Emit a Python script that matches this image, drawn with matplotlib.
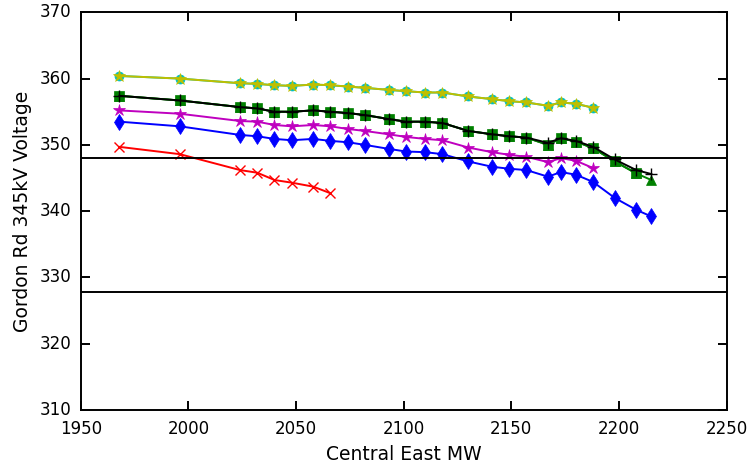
import matplotlib
matplotlib.use("Agg")
import matplotlib.pyplot as plt

plt.style.use('classic')

mw = [1968, 1996, 2024, 2032, 2040, 2048, 2058, 2066, 2074, 2082, 2093, 2101,
      2110, 2118, 2130, 2141, 2149, 2157, 2167, 2173, 2180, 2188, 2198, 2208, 2215]

blue_v = [353.5, 352.8, 351.5, 351.3, 350.9, 350.7, 350.9, 350.6, 350.4, 350.0, 349.4, 349.0,
          348.9, 348.6, 347.5, 346.7, 346.4, 346.2, 345.2, 345.9, 345.5, 344.4, 342.0, 340.2, 339.2]
green_v = [357.4, 356.7, 355.7, 355.5, 355.0, 355.0, 355.2, 355.0, 354.8, 354.5, 353.9, 353.5,
           353.5, 353.3, 352.1, 351.6, 351.3, 351.1, 350.0, 351.0, 350.5, 349.5, 347.5, 345.7, 344.7]
red_v = [349.7, 348.6, 346.2, 345.8, 344.7, 344.3, 343.7, 342.7]
cyan_v = [360.4, 360.0, 359.3, 359.2, 359.0, 358.9, 359.1, 359.0, 358.8, 358.6, 358.3, 358.1,
          357.9, 357.9, 357.3, 356.9, 356.6, 356.4, 355.9, 356.4, 356.2, 355.6]
magenta_v = [355.2, 354.7, 353.6, 353.5, 353.0, 352.8, 353.0, 352.8, 352.4, 352.1, 351.6, 351.2,
             350.9, 350.7, 349.6, 348.9, 348.5, 348.2, 347.4, 348.0, 347.6, 346.5]
yellow_v = cyan_v
black_v = [357.4, 356.7, 355.7, 355.5, 355.0, 355.0, 355.2, 355.0, 354.8, 354.5, 353.9, 353.5,
           353.5, 353.3, 352.1, 351.6, 351.3, 351.1, 350.3, 351.0, 350.6, 349.7, 347.8, 346.2, 345.6]
limits = [348.0, 327.75]

fig = plt.figure(figsize=(7.5, 4.68), dpi=100, facecolor='white')
ax = fig.add_axes([0.1076, 0.1239, 0.8613, 0.8498])

lw = 1.4
ax.plot(mw, blue_v, 'b-d', mec='b', lw=lw, ms=8)
ax.plot(mw, green_v, 'g-^', mec='g', lw=lw, ms=7.5)
ax.plot(mw[:len(green_v) - 1], green_v[:-1], 'g-s', mec='g', lw=lw, ms=7)
ax.plot(mw[:len(red_v)], red_v, 'r-x', mec='r', mew=1, lw=lw, ms=7.5)
ax.plot(mw[:len(cyan_v)], cyan_v, 'c-o', mec='c', lw=lw, ms=6.5)
ax.plot(mw[:len(magenta_v)], magenta_v, 'm-*', mec='m', ms=9, lw=lw)
ax.plot(mw[:len(yellow_v)], yellow_v, 'y-*', mec='y', ms=9, lw=lw)
ax.plot(mw, black_v, 'k-+', mec='k', ms=9, mew=1, lw=lw)

for lv in limits:
    ax.axhline(lv, color='k', lw=1.4)

ax.set_xlim(1950, 2250)
ax.set_ylim(310, 370)
ax.set_xlabel('Central East MW', fontsize=13.5, labelpad=5)
ax.set_ylabel('Gordon Rd 345kV Voltage', fontsize=13.5, labelpad=5)
ax.tick_params(labelsize=12, length=6.5, width=1.4, pad=7)
for s in ax.spines.values():
    s.set_linewidth(1.4)

fig.savefig('out.png', dpi=100, facecolor='white')
